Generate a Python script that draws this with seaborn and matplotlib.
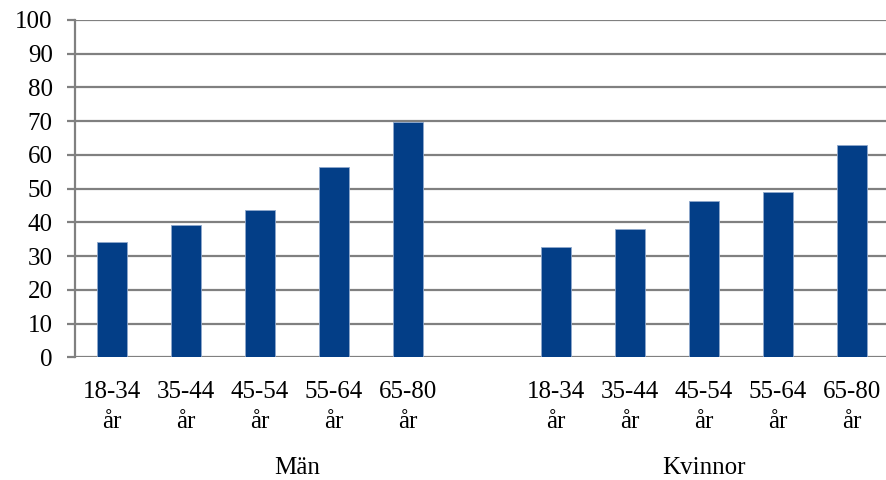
import numpy as np
import pandas as pd
import seaborn as sns
import matplotlib
matplotlib.use("Agg")
import matplotlib.pyplot as plt
from matplotlib.transforms import blended_transform_factory

# Andel (%) per åldersgrupp och kön
groups = ["Män", "Kvinnor"]
age_groups = ["18-34", "35-44", "45-54", "55-64", "65-80"]
man_values = [34.2, 39.2, 43.6, 56.4, 69.7]
kvinnor_values = [32.7, 37.9, 46.4, 49.1, 62.8]
y_ticks = [0, 10, 20, 30, 40, 50, 60, 70, 80, 90, 100]

sns.set_theme(style="white")
plt.rcParams["font.family"] = ["Liberation Serif", "DejaVu Serif"]

rows = []
for g, vals in zip(groups, [man_values, kvinnor_values]):
    gi = groups.index(g)
    for i, (age, v) in enumerate(zip(age_groups, vals)):
        # one empty slot separates the two groups
        rows.append({"grupp": g, "alder": age, "pos": gi * (len(age_groups) + 1) + i, "andel": v})
df = pd.DataFrame(rows)

fig = plt.figure(figsize=(8.86, 4.80), dpi=100)
ax = fig.add_axes([75 / 886, 122.7 / 480, 814 / 886, 337.3 / 480])

bar_color = "#033E87"
sns.barplot(data=df, x="pos", y="andel", native_scale=True, width=0.4,
            color=bar_color, saturation=1, edgecolor="#8FA8CC", linewidth=0.6,
            ax=ax, zorder=3)

ax.set_xlim(-0.5, 10.5)
ax.set_ylim(0, 100)
ax.set_yticks(y_ticks)
ax.set_yticklabels([str(t) for t in y_ticks])
ax.yaxis.grid(True, color="#808080", linewidth=1.6, zorder=0)
ax.set_axisbelow(True)

ax.set_xticks(df["pos"])
ax.set_xticklabels([f"{a}\når" for a in df["alder"]], linespacing=1.5)

for side in ["top", "right", "bottom"]:
    ax.spines[side].set_visible(False)
ax.spines["left"].set_color("#808080")
ax.spines["left"].set_linewidth(1.6)

fs = 18
ax.tick_params(axis="y", which="both", left=True, length=6, width=1.6,
               color="#808080", labelsize=fs, pad=10, labelcolor="black")
ax.tick_params(axis="x", which="both", bottom=False, labelsize=fs, pad=11,
               labelcolor="black")
ax.set_xlabel("")
ax.set_ylabel("")

# group labels centred under each category span
trans = blended_transform_factory(ax.transData, fig.transFigure)
n = len(age_groups)
for gi, g in enumerate(groups):
    start = gi * (n + 1)
    end = start + n if gi == 0 else start + n - 1
    ax.text((start + end) / 2, 12 / 480, g, transform=trans, ha="center",
            va="center", fontsize=fs, color="black")

fig.savefig("out.png", dpi=100)
